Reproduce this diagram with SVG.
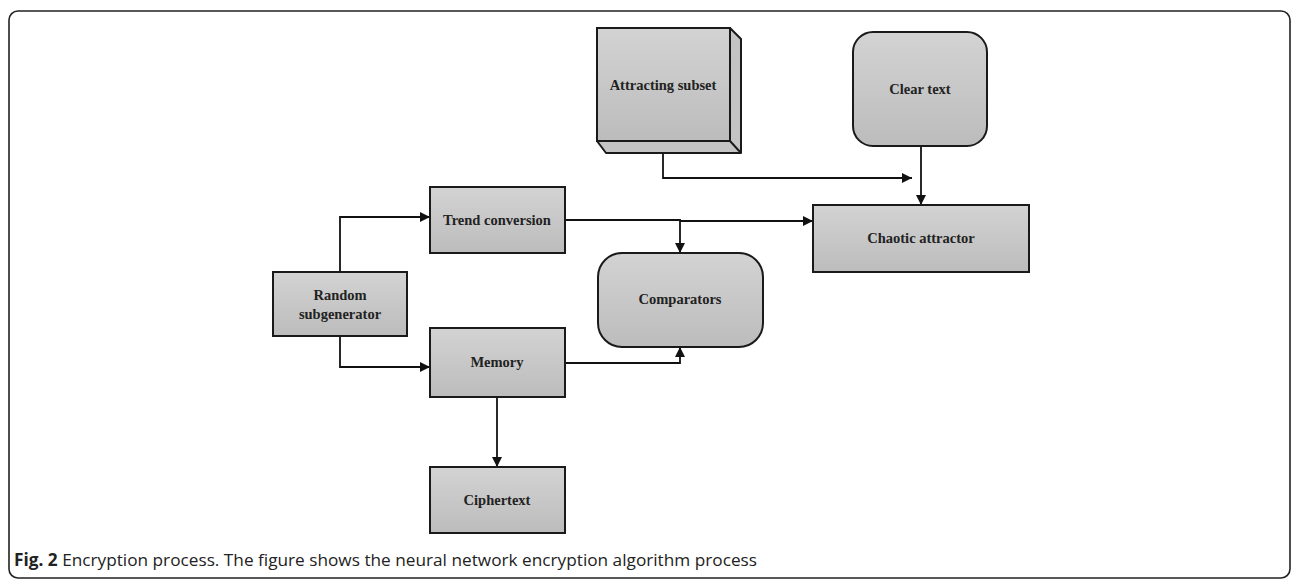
<svg xmlns="http://www.w3.org/2000/svg" width="1292" height="580" viewBox="0 0 1292 580">
  <defs>
    <linearGradient id="boxFill" x1="0" y1="0" x2="0" y2="1">
      <stop offset="0" stop-color="#d3d3d3"/>
      <stop offset="1" stop-color="#bcbcbc"/>
    </linearGradient>
    <marker id="arrow" viewBox="0 0 10 10" refX="10" refY="5" markerWidth="10" markerHeight="10" markerUnits="userSpaceOnUse" orient="auto">
      <path d="M0,0 L10,5 L0,10 Z" fill="#111"/>
    </marker>
  </defs>
  <style>
    .box { fill: url(#boxFill); stroke: #1a1a1a; stroke-width: 2; }
    .side { fill: #c4c4c4; stroke: #1a1a1a; stroke-width: 2; stroke-linejoin: round; }
    .label { font-family: "Liberation Serif", "Times New Roman", serif; font-weight: bold; font-size: 14.5px; fill: #222; text-anchor: middle; }
    .wire { fill: none; stroke: #111; stroke-width: 1.8; }
    .frame { fill: none; stroke: #222; stroke-width: 1.6; }
    .caption { font-family: "Open Sans", "Liberation Sans", sans-serif; font-size: 17px; fill: #222; }
  </style>

  <rect class="frame" x="9" y="11" width="1281" height="567" rx="9"/>

  <!-- connectors -->
  <g id="connectors">
    <polyline class="wire" points="663,141 663,178 912,178" marker-end="url(#arrow)"/>
    <polyline class="wire" points="921,146 921,205" marker-end="url(#arrow)"/>
    <polyline class="wire" points="565,220 680,220 680,253" marker-end="url(#arrow)"/>
    <polyline class="wire" points="680,221 813,221" marker-end="url(#arrow)"/>
    <polyline class="wire" points="340,272 340,217 430,217" marker-end="url(#arrow)"/>
    <polyline class="wire" points="340,336 340,367 430,367" marker-end="url(#arrow)"/>
    <polyline class="wire" points="565,363 680,363 680,347" marker-end="url(#arrow)"/>
    <polyline class="wire" points="497,397 497,467" marker-end="url(#arrow)"/>
  </g>

  <g id="attracting-subset">
    <polygon class="side" points="730,28 741,39 741,153 606,153 597,141 730,141"/>
    <line x1="730" y1="141" x2="741" y2="153" stroke="#1a1a1a" stroke-width="2"/>
    <rect class="box" x="597" y="28" width="133" height="113"/>
    <text class="label" x="663" y="90">Attracting subset</text>
  </g>

  <g id="clear-text">
    <rect class="box" x="853" y="32" width="134" height="114" rx="20"/>
    <text class="label" x="920" y="94">Clear text</text>
  </g>

  <g id="trend-conversion">
    <rect class="box" x="430" y="187" width="135" height="66"/>
    <text class="label" x="497" y="225">Trend conversion</text>
  </g>

  <g id="chaotic-attractor">
    <rect class="box" x="813" y="205" width="216" height="67"/>
    <text class="label" x="921" y="243">Chaotic attractor</text>
  </g>

  <g id="random-subgenerator">
    <rect class="box" x="273" y="272" width="134" height="64"/>
    <text class="label" x="340" y="300">Random</text>
    <text class="label" x="340" y="319">subgenerator</text>
  </g>

  <g id="comparators">
    <rect class="box" x="598" y="253" width="165" height="94" rx="24"/>
    <text class="label" x="680" y="304">Comparators</text>
  </g>

  <g id="memory">
    <rect class="box" x="430" y="328" width="135" height="69"/>
    <text class="label" x="497" y="367">Memory</text>
  </g>

  <g id="ciphertext">
    <rect class="box" x="430" y="467" width="135" height="66"/>
    <text class="label" x="497" y="505">Ciphertext</text>
  </g>

  <text class="caption" x="14" y="566" textLength="743" lengthAdjust="spacingAndGlyphs"><tspan font-weight="bold">Fig. 2</tspan> Encryption process. The figure shows the neural network encryption algorithm process</text>
</svg>
